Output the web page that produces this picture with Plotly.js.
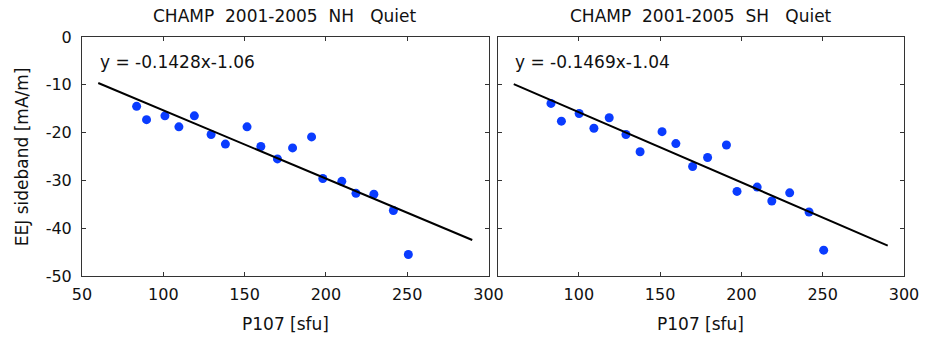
<!DOCTYPE html>
<html>
<head>
<meta charset="utf-8">
<script src="https://cdn.plot.ly/plotly-3.0.1.min.js"></script>
<style>html,body{margin:0;padding:0;background:#fff;}#chart{width:928px;height:337px;}</style>
</head>
<body>
<div id="chart"></div>
<script>
// ---- Data ----
const titles = ["CHAMP  2001-2005  NH   Quiet", "CHAMP  2001-2005  SH   Quiet"];
const equations = ["y = -0.1428x-1.06", "y = -0.1469x-1.04"];

const nhX = [83.6, 89.7, 101.0, 109.6, 119.1, 129.4, 138.2, 151.5, 160.0, 170.2, 179.5, 191.2, 198.1, 209.8, 218.5, 229.5, 241.5, 250.7];
const nhY = [-14.5, -17.3, -16.5, -18.8, -16.5, -20.4, -22.4, -18.8, -22.9, -25.5, -23.2, -20.9, -29.6, -30.2, -32.7, -32.9, -36.3, -45.5];

const shX = [82.9, 89.3, 100.2, 109.3, 118.7, 129.0, 137.7, 151.2, 159.7, 170.0, 179.2, 190.8, 197.3, 209.7, 218.7, 229.7, 241.6, 250.6];
const shY = [-13.9, -17.6, -16.0, -19.1, -16.9, -20.4, -24.0, -19.8, -22.3, -27.1, -25.2, -22.6, -32.3, -31.4, -34.3, -32.6, -36.6, -44.6];

const nhFitX = [60, 290];
const nhFitY = [-9.63, -42.47];
const shFitX = [60, 290];
const shFitY = [-9.85, -43.64];

const xTicks = [50, 100, 150, 200, 250, 300];
const xTicksRight = [100, 150, 200, 250, 300];
const yTicks = [0, -10, -20, -30, -40, -50];

// ---- Styling ----
const FONT = "DejaVu Sans, Liberation Sans, Arial, sans-serif";
const dotColor = "#0a3cff";
const marker = {size: 9, color: dotColor};
const fitLine = {color: "#000", width: 2};

const traces = [
  {x: nhX, y: nhY, type: "scatter", mode: "markers", marker: marker, xaxis: "x", yaxis: "y", hoverinfo: "skip"},
  {x: nhFitX, y: nhFitY, type: "scatter", mode: "lines", line: fitLine, xaxis: "x", yaxis: "y", hoverinfo: "skip"},
  {x: shX, y: shY, type: "scatter", mode: "markers", marker: marker, xaxis: "x2", yaxis: "y2", hoverinfo: "skip"},
  {x: shFitX, y: shFitY, type: "scatter", mode: "lines", line: fitLine, xaxis: "x2", yaxis: "y2", hoverinfo: "skip"}
];

const axisCommon = {
  showgrid: false, zeroline: false, showline: true, linecolor: "#333", linewidth: 1,
  mirror: "ticks", ticks: "inside", ticklen: 4, tickcolor: "#333",
  tickfont: {family: FONT, size: 16, color: "#111"}, fixedrange: true
};

const W = 928, L = 82, R = 24, Tm = 37, B = 61;
const plotW = W - L - R;
const d1 = (488.5 - L) / plotW;
const d2 = (497.5 - L) / plotW;

const layout = {
  width: 928, height: 337,
  margin: {l: L, r: R, t: Tm, b: B, pad: 0},
  paper_bgcolor: "#fff", plot_bgcolor: "#fff",
  showlegend: false,
  font: {family: FONT, color: "#111"},
  xaxis: Object.assign({}, axisCommon, {domain: [0, d1], range: [50, 300], tickvals: xTicks, ticktext: xTicks.map(String), anchor: "y", ticklabelstandoff: 4}),
  yaxis: Object.assign({}, axisCommon, {domain: [0, 1], range: [-50, 0], tickvals: yTicks, ticktext: yTicks.map(String), anchor: "x", ticklabelstandoff: 6}),
  xaxis2: Object.assign({}, axisCommon, {domain: [d2, 1], range: [50, 300], tickvals: xTicks, ticktext: xTicks.map(v => xTicksRight.includes(v) ? String(v) : ""), anchor: "y2", ticklabelstandoff: 4}),
  yaxis2: Object.assign({}, axisCommon, {domain: [0, 1], range: [-50, 0], tickvals: yTicks, showticklabels: false, anchor: "x2"}),
  annotations: [
    {text: titles[0], xref: "paper", yref: "paper", x: d1 / 2, y: 1.088, xanchor: "center", yanchor: "middle", showarrow: false, font: {family: FONT, size: 17, color: "#111"}},
    {text: titles[1], xref: "paper", yref: "paper", x: (d2 + 1) / 2, y: 1.088, xanchor: "center", yanchor: "middle", showarrow: false, font: {family: FONT, size: 17, color: "#111"}},
    {text: "P107 [sfu]", xref: "paper", yref: "paper", x: d1 / 2, y: -0.20, xanchor: "center", yanchor: "middle", showarrow: false, font: {family: FONT, size: 17, color: "#111"}},
    {text: "P107 [sfu]", xref: "paper", yref: "paper", x: (d2 + 1) / 2, y: -0.20, xanchor: "center", yanchor: "middle", showarrow: false, font: {family: FONT, size: 17, color: "#111"}},
    {text: "EEJ sideband [mA/m]", xref: "paper", yref: "paper", x: -0.0734, y: 0.5, xanchor: "center", yanchor: "middle", textangle: -90, showarrow: false, font: {family: FONT, size: 17, color: "#111"}},
    {text: equations[0], xref: "x", yref: "y", x: 59.8, y: -5.3, xanchor: "left", yanchor: "middle", showarrow: false, font: {family: FONT, size: 17, color: "#111"}},
    {text: equations[1], xref: "x2", yref: "y2", x: 59.7, y: -5.3, xanchor: "left", yanchor: "middle", showarrow: false, font: {family: FONT, size: 17, color: "#111"}}
  ]
};

Plotly.newPlot("chart", traces, layout, {displayModeBar: false, staticPlot: true});
</script>
</body>
</html>
